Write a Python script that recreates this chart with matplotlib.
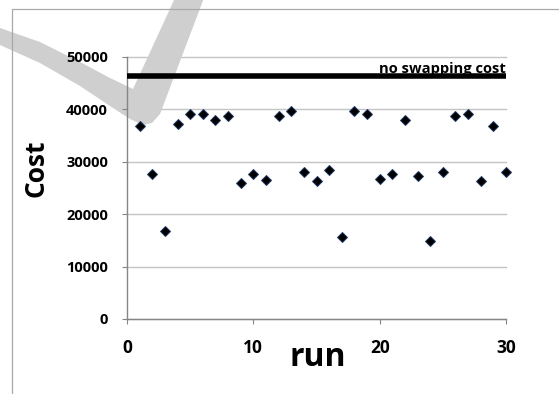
import matplotlib
matplotlib.use("Agg")
import matplotlib.pyplot as plt
from matplotlib.patches import Polygon
from matplotlib.lines import Line2D

plt.rcParams['font.family'] = ['Open Sans', 'DejaVu Sans']
plt.rcParams['font.weight'] = 'bold'

runs = list(range(1, 31))
cost = [36800, 27600, 16700, 37200, 39200, 39200, 38000, 38800, 26000, 27700,
        26500, 38800, 39600, 28000, 26400, 28400, 15600, 39600, 39100, 26800,
        27700, 38000, 27200, 14800, 28000, 38800, 39200, 26400, 36800, 28000]
no_swap_cost = 46300
no_swap_x = [0, 30]
no_swap_label = "no swapping cost"
x_ticks = [0, 10, 20, 30]
y_ticks = [0, 10000, 20000, 30000, 40000, 50000]
x_label = "run"
y_label = "Cost"

W, H = 559, 394
fig = plt.figure(figsize=(W / 100, H / 100), dpi=100)
fig.patch.set_facecolor('white')

def fx(px):
    return px / W

def fy(py):
    return 1 - py / H

ax = fig.add_axes([fx(127), fy(319), (506 - 127) / W, (319 - 57) / H])
ax.set_xlim(0, 30)
ax.set_ylim(0, 50000)
ax.set_axisbelow(False)

for yt in y_ticks:
    ax.axhline(yt, color='#c4c4c4', lw=1.0, zorder=0.5, clip_on=False)

# outer chart border
fig.add_artist(Line2D([fx(12), fx(12), 1.0], [0.0, fy(9), fy(9)],
                      transform=fig.transFigure, color='#a8a8a8', lw=0.9))

# watermark stroke
wm_px = [(0, 28), (40, 42), (80, 62), (110, 78), (133, 89), (175, -2), (204, -2),
         (160, 114), (152, 123), (143, 125), (130, 119), (110, 106), (80, 86),
         (40, 63), (0, 45)]
wm = Polygon([(fx(a), fy(b)) for a, b in wm_px], closed=True,
             transform=fig.transFigure, facecolor='#cfcfcf', edgecolor='none',
             zorder=1, clip_on=False)
ax.add_artist(wm)

ax.plot(no_swap_x, [no_swap_cost] * 2, color='black', lw=4.0, zorder=3,
        solid_capstyle='butt')
ax.annotate(no_swap_label, xy=(30, no_swap_cost), xytext=(0, 2.4),
            textcoords='offset points', ha='right', va='baseline',
            fontsize=10.6, fontweight='bold', zorder=4)

ax.plot(runs, cost, linestyle='none', marker='D', markersize=5.2,
        markerfacecolor='black', markeredgecolor='#1f3864',
        markeredgewidth=0.7, zorder=4, clip_on=False)

for s in ['top', 'right']:
    ax.spines[s].set_visible(False)
for s in ['left', 'bottom']:
    ax.spines[s].set_color('#868686')
    ax.spines[s].set_linewidth(1.0)

ax.set_xticks(x_ticks)
ax.set_yticks(y_ticks)
ax.set_yticklabels([str(v) for v in y_ticks])
ax.tick_params(axis='both', direction='out', length=3.6, width=0.8,
               color='#868686')
ax.tick_params(axis='y', labelsize=10.5, pad=10)
ax.tick_params(axis='x', labelsize=12.5, pad=10.5)
for lab in ax.get_xticklabels() + ax.get_yticklabels():
    lab.set_fontweight('bold')

fig.text(fx(36), fy(168), y_label, rotation=90, ha='center', va='center',
         fontsize=19, fontweight='bold')
fig.text(fx(318), fy(366), x_label, ha='center', va='baseline',
         fontsize=23, fontweight='bold')

fig.savefig('out.png', dpi=100)
